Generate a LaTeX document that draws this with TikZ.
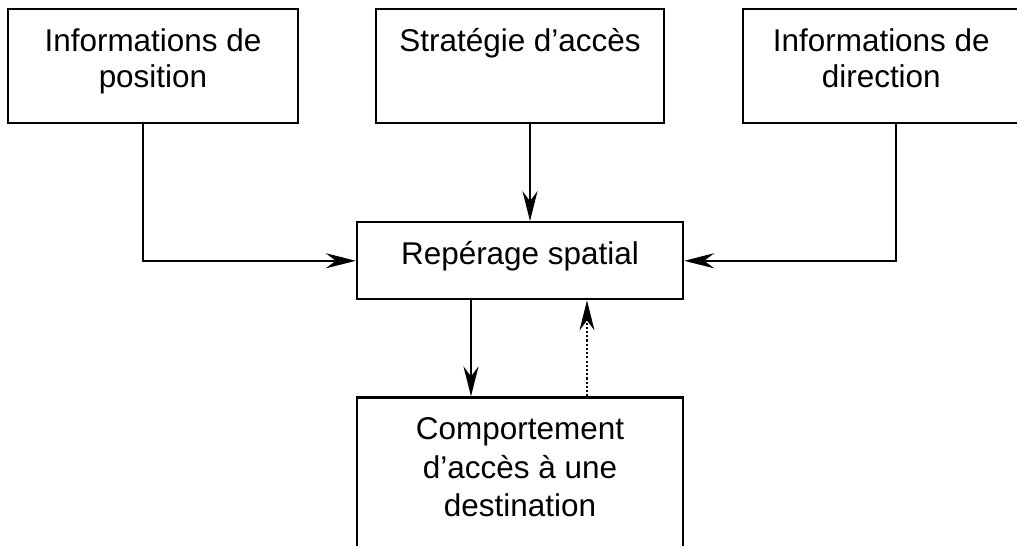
\documentclass[tikz,border=0pt]{standalone}
\usepackage{fontspec}
\setmainfont{Liberation Sans}
\usepackage{tikz}
\usetikzlibrary{arrows.meta,positioning,calc}
\tikzset{
  boite/.style={rectangle, draw=black, line width=1.3pt, minimum width=#1, minimum height=2.28cm, inner sep=0pt},
  boite/.default=5.76cm,
  txt/.style={inner sep=0pt, align=center, font=\fontsize{17.9}{20.5}\selectfont},
  arr/.style={-{Stealth[length=0.6cm,width=0.3cm,inset=0.2cm]}, line width=1.3pt},
  pointille/.style={arr, dash pattern=on 1.2pt off 1.2pt},
}
\begin{document}
\begin{tikzpicture}

\useasboundingbox (0,0) rectangle (20.34,10.9);

% LIGNE DU HAUT
\node[boite] (strat) at (10.4,9.58) {};
\node[txt, below=0.4cm of strat.north] (stratT) {Stratégie d’accès};

\node[boite=5.79cm, left=1.52cm of strat] (pos) {};
\node[txt, below=0.4cm of pos.north] (posT) {Informations de\\position};

\node[boite=5.52cm, right=1.54cm of strat] (dir) {};
\node[txt, below=0.4cm of dir.north] (dirT) {Informations de\\direction};

% REPERAGE
\node[boite=6.52cm, minimum height=1.54cm, below=1.94cm of strat] (rep) {};
\node[txt, below=0.4cm of rep.north] (repT) {Repérage spatial};

% COMPORTEMENT (coupe en bas)
\node[boite=6.52cm, minimum height=3.34cm, below=1.92cm of rep] (comp) {};
\node[txt, font=\fontsize{17.9}{21.8}\selectfont, below=0.42cm of comp.north] (compT) {Comportement\\d’accès à une\\destination};

% Fleches
\draw[arr] ([xshift=-0.2cm]pos.south) |- (rep);
\draw[arr] ([xshift=0.2cm]strat.south) -- ([xshift=0.2cm]rep.north);
\draw[arr] ([xshift=0.29cm]dir.south) |- (rep);
\draw[arr] ([xshift=-0.98cm]rep.south) -- ([xshift=-0.98cm]comp.north);
\draw[pointille] ([xshift=1.34cm]comp.north) -- ([xshift=1.34cm]rep.south);

\end{tikzpicture}
\end{document}
